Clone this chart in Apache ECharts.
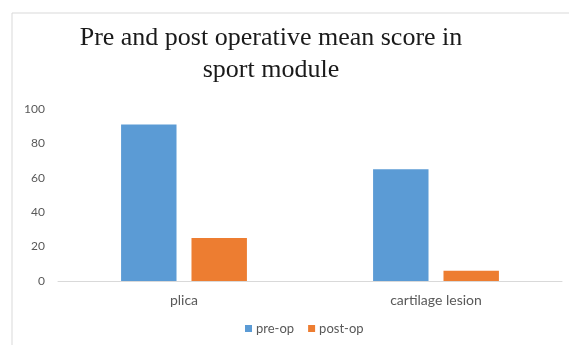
<!DOCTYPE html>
<html>
<head>
<meta charset="utf-8">
<script src="https://cdn.jsdelivr.net/npm/echarts@6/dist/echarts.min.js"></script>
<style>
  html, body { margin: 0; padding: 0; background: #fff; }
  #chart { width: 569px; height: 345px; }
</style>
</head>
<body>
<div id="chart"></div>
<script>
// 数据
const categories = ['plica', 'cartilage lesion']
const preOp = [91, 65]
const postOp = [25, 6]
const yTicks = [0, 20, 40, 60, 80, 100]

const chart = echarts.init(document.getElementById('chart'))

const labelFont = 'Lato, "Open Sans", sans-serif'

const option = {
  animation: false,
  title: {
    text: 'Pre and post operative mean score in\nsport module',
    left: 266,
    textAlign: 'center',
    top: 17,
    textStyle: {
      fontFamily: '"Liberation Serif", "Times New Roman", serif',
      fontSize: 26,
      fontWeight: 'normal',
      color: '#1a1a1a',
      lineHeight: 32
    }
  },
  // 外框
  graphic: [{
    type: 'rect',
    shape: { x: 12, y: 13, width: 600, height: 400 },
    style: { fill: 'none', stroke: '#d9d9d9', lineWidth: 1 },
    silent: true
  }],
  legend: {
    top: 317,
    left: 240,
    itemWidth: 7,
    itemHeight: 7,
    itemGap: 14,
    icon: 'rect',
    textStyle: { color: '#595959', fontSize: 13, fontFamily: labelFont, padding: [0, 0, 0, -1] },
    data: ['pre-op', 'post-op']
  },
  grid: { left: 58, right: 7, top: 109, bottom: 64 },
  xAxis: {
    type: 'category',
    data: categories,
    axisLine: { lineStyle: { color: '#d9d9d9' } },
    axisTick: { show: false },
    axisLabel: { color: '#595959', fontSize: 14, fontFamily: labelFont, margin: 12 }
  },
  yAxis: {
    type: 'value',
    min: yTicks[0],
    max: yTicks[yTicks.length - 1],
    interval: 20,
    axisLine: { show: false },
    axisTick: { show: false },
    splitLine: { show: false },
    axisLabel: { color: '#595959', fontSize: 12, fontFamily: labelFont, margin: 13 }
  },
  series: [
    {
      name: 'pre-op',
      type: 'bar',
      data: preOp,
      barWidth: '22%',
      barGap: '27%',
      itemStyle: { color: '#5b9bd5' }
    },
    {
      name: 'post-op',
      type: 'bar',
      data: postOp,
      barWidth: '22%',
      itemStyle: { color: '#ed7d31' }
    }
  ]
}

chart.setOption(option)
</script>
</body>
</html>
